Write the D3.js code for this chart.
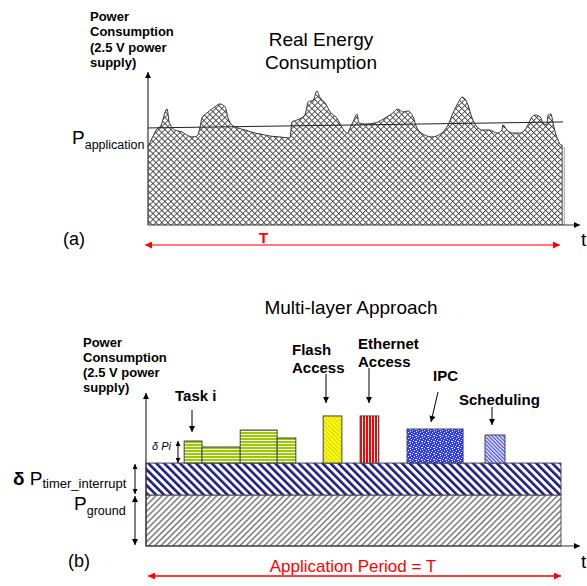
<!DOCTYPE html>
<html>
<head>
<meta charset="utf-8">
<script src="https://cdn.jsdelivr.net/npm/d3@7"></script>
<style>
html,body{margin:0;padding:0;background:#fff;}
svg{display:block;font-family:"Liberation Sans",Arial,sans-serif;}
</style>
</head>
<body>
<svg id="c" width="587" height="586"></svg>
<script>
// ---------- DATA ----------
// (a) real energy consumption profile: time (0..100 = T) and power (arbitrary units)
const energyTime  = [0,1.0,2.4,2.9,4.6,5.1,6.5,8.2,9.4,10.6,11.8,12.5,13.0,14.2,16.1,17.3,18.6,19.3,20.2,21.7,23.4,25.8,27.0,29.4,31.8,34.2,34.7,35.9,37.8,38.6,39.8,40.7,41.4,42.7,43.9,45.5,46.7,48.0,48.7,49.4,50.4,50.8,52.3,54.7,57.1,59.0,60.2,61.4,62.7,63.9,64.8,66.7,68.4,70.8,72.3,73.5,74.7,75.7,76.4,77.1,78.1,79.3,80.7,82.4,84.1,85.3,85.5,86.5,88.0,89.6,91.3,92.5,93.3,94.5,95.2,96.1,96.4,97.1,97.6,98.1,98.8,99.5,99.8];
const energyPower = [52,58,64.7,65.3,77.3,68.7,63.3,62,60,58.7,59.3,64.7,71.3,74.7,78.7,80.7,78.7,71.3,66.7,64.7,63.3,61.3,60.7,59.3,58.7,58,68.7,70,73.3,82,83.3,89.3,85.3,81.3,75.3,71.3,65.3,61.3,64.7,68.7,74,68,67.3,68,71.3,74.7,77.3,75.3,76,72,64.7,60,58.7,61.3,66.7,74.7,81.3,85.3,84,80,71.3,65.3,63.3,63.3,61.3,63.3,66.7,63.3,61.3,61.3,65.3,72,73.3,72,68,66.7,73.3,74,68,62,56.7,53.3,53.3];
const applicationTime  = [0, 100];
const applicationPower = [64.7, 68.7];

// (b) multi-layer model
const groundLevel = 34;     // P_ground
const timerLevel  = 55.3;   // P_ground + dP_timer_interrupt
const barNames  = ["task1","task2","task3","task4","flash","ethernet","ipc","scheduling"];
const barStart  = [9.2, 13.5, 22.7, 31.6, 42.7, 51.6, 62.9, 81.7];
const barEnd    = [13.5, 22.7, 31.6, 36.1, 47.2, 56.1, 76.4, 86.5];
const barTop    = [70, 66, 77.3, 72, 86.7, 86.7, 78, 74];
const barFill   = ["green","green","green","green","flash","ethernet","ipc","sched"];

const labelTexts = [["Task i"],["Flash","Access"],["Ethernet","Access"],["IPC"],["Scheduling"]];

// ---------- DRAW ----------
const svg = d3.select("#c");
const defs = svg.append("defs");

function arrowMarker(id, color, w, h){
  const m = defs.append("marker").attr("id", id).attr("viewBox","0 0 10 10")
    .attr("refX",10).attr("refY",5).attr("markerWidth",w).attr("markerHeight",h)
    .attr("markerUnits","userSpaceOnUse").attr("orient","auto-start-reverse");
  m.append("path").attr("d","M0,0 L10,5 L0,10 Z").attr("fill",color);
}
arrowMarker("ak","#000",7,6);
arrowMarker("aks","#000",6,5);
arrowMarker("ar","#ff0000",9,7);

// crosshatch
let p = defs.append("pattern").attr("id","xhatch").attr("patternUnits","userSpaceOnUse")
  .attr("width",4.24).attr("height",4.24).attr("patternTransform","rotate(45)");
p.append("rect").attr("width",4.24).attr("height",4.24).attr("fill","#fff");
p.append("path").attr("d","M0,0 H4.24 M0,0 V4.24").attr("stroke","#333").attr("stroke-width",1.5);

// ground
p = defs.append("pattern").attr("id","ground").attr("patternUnits","userSpaceOnUse")
  .attr("width",4.3).attr("height",10).attr("patternTransform","rotate(45)");
p.append("rect").attr("width",4.3).attr("height",10).attr("fill","#fff");
p.append("rect").attr("width",1.5).attr("height",10).attr("fill","#7a7a7a");

// timer
p = defs.append("pattern").attr("id","timer").attr("patternUnits","userSpaceOnUse")
  .attr("width",5.6).attr("height",10).attr("patternTransform","rotate(-45)");
p.append("rect").attr("width",5.6).attr("height",10).attr("fill","#fff");
p.append("rect").attr("width",2.6).attr("height",10).attr("fill","#1c1c86");

// green horizontal stripes
p = defs.append("pattern").attr("id","green").attr("patternUnits","userSpaceOnUse")
  .attr("width",10).attr("height",3);
p.append("rect").attr("width",10).attr("height",3).attr("fill","#fff");
p.append("rect").attr("width",10).attr("height",2).attr("fill","#99cc00");

// flash yellow
p = defs.append("pattern").attr("id","flash").attr("patternUnits","userSpaceOnUse")
  .attr("width",3).attr("height",10).attr("patternTransform","rotate(-45)");
p.append("rect").attr("width",3).attr("height",10).attr("fill","#ffff00");
p.append("rect").attr("width",0.9).attr("height",10).attr("fill","#c9c930");

// ethernet red vertical
p = defs.append("pattern").attr("id","ethernet").attr("patternUnits","userSpaceOnUse")
  .attr("width",3).attr("height",10);
p.append("rect").attr("width",3).attr("height",10).attr("fill","#fff");
p.append("rect").attr("width",2).attr("height",10).attr("fill","#ff0000");

// ipc blue dotted
p = defs.append("pattern").attr("id","ipc").attr("patternUnits","userSpaceOnUse")
  .attr("width",6).attr("height",6);
p.append("rect").attr("width",6).attr("height",6).attr("fill","#2f3cff");
p.append("path").attr("d","M0,0h1v1h-1z M3,1h1v1h-1z M1,3h2v1h-2z M4,4h1v1h-1z M5,2h1v1h-1z M2,5h1v1h-1z")
  .attr("fill","#fff");

// scheduling blue diag
p = defs.append("pattern").attr("id","sched").attr("patternUnits","userSpaceOnUse")
  .attr("width",2.6).attr("height",10).attr("patternTransform","rotate(-45)");
p.append("rect").attr("width",2.6).attr("height",10).attr("fill","#fff");
p.append("rect").attr("width",1.3).attr("height",10).attr("fill","#3a46ff");

// ---- (a) ----
const xA = d3.scaleLinear().domain([0,100]).range([148,563]);
const yA = d3.scaleLinear().domain([0,100]).range([225,75]);
const energy = energyTime.map((t,i)=>({t, p: energyPower[i]}));

svg.append("path").datum(energy)
  .attr("d", d3.area().x(d=>xA(d.t)).y0(yA(0)).y1(d=>yA(d.p)).curve(d3.curveMonotoneX))
  .attr("fill","url(#xhatch)");
svg.append("path").datum(energy)
  .attr("d", d3.line().x(d=>xA(d.t)).y(d=>yA(d.p)).curve(d3.curveMonotoneX))
  .attr("fill","none").attr("stroke","#333").attr("stroke-width",1);
svg.append("line").attr("x1",xA(99.8)).attr("x2",xA(99.8)).attr("y1",yA(53.3)).attr("y2",yA(0))
  .attr("stroke","#555").attr("stroke-width",1);
svg.append("line").attr("x1",xA(100.3)).attr("x2",xA(100.3)).attr("y1",yA(52)).attr("y2",yA(0))
  .attr("stroke","#888").attr("stroke-width",0.8);

// application level line
svg.append("line")
  .attr("x1",xA(applicationTime[0])).attr("y1",yA(applicationPower[0]))
  .attr("x2",xA(applicationTime[1])).attr("y2",yA(applicationPower[1]))
  .attr("stroke","#222").attr("stroke-width",1);

// axes (a)
svg.append("line").attr("x1",xA(0)).attr("y1",yA(0)).attr("x2",xA(0)).attr("y2",72)
  .attr("stroke","#333").attr("stroke-width",1.2).attr("marker-end","url(#ak)");
svg.append("line").attr("x1",xA(0)).attr("y1",yA(0)).attr("x2",580).attr("y2",yA(0))
  .attr("stroke","#333").attr("stroke-width",1.2).attr("marker-end","url(#ak)");

// red T arrow
svg.append("line").attr("x1",145).attr("x2",560).attr("y1",245).attr("y2",245)
  .attr("stroke","#ff4d4d").attr("stroke-width",1.6)
  .attr("marker-start","url(#ar)").attr("marker-end","url(#ar)");

// texts (a)
const ylab1 = svg.append("text").attr("x",90).attr("font-size",13).attr("font-weight","bold").attr("fill","#000");
["Power","Consumption","(2.5 V power","supply)"].forEach((s,i)=>
  ylab1.append("tspan").attr("x",90).attr("y",21+i*15.3).text(s));
svg.append("text").attr("x",321).attr("y",46).attr("text-anchor","middle").attr("font-size",19).text("Real Energy");
svg.append("text").attr("x",321).attr("y",69).attr("text-anchor","middle").attr("font-size",19).text("Consumption");
const pa = svg.append("text").attr("x",72).attr("y",144).attr("font-size",19);
pa.append("tspan").text("P");
pa.append("tspan").attr("font-size",12.5).attr("dy",4.5).text("application");
svg.append("text").attr("x",63).attr("y",245).attr("font-size",18).text("(a)");
svg.append("text").attr("x",581).attr("y",246).attr("font-size",19).text("t");
svg.append("text").attr("x",263.5).attr("y",243).attr("text-anchor","middle").attr("font-size",15)
  .attr("font-weight","bold").attr("fill","#ff0000").text("T");

// ---- (b) ----
const xB = d3.scaleLinear().domain([0,100]).range([146,561]);
const yB = d3.scaleLinear().domain([0,100]).range([546,396]);

svg.append("rect").attr("x",xB(0)).attr("width",xB(100)-xB(0))
  .attr("y",yB(groundLevel)).attr("height",yB(0)-yB(groundLevel))
  .attr("fill","url(#ground)").attr("stroke","#555").attr("stroke-width",1);
svg.append("rect").attr("x",xB(0)).attr("width",xB(100)-xB(0))
  .attr("y",yB(timerLevel)).attr("height",yB(groundLevel)-yB(timerLevel))
  .attr("fill","url(#timer)").attr("stroke","#444").attr("stroke-width",1);

const bars = barNames.map((n,i)=>({n, s:barStart[i], e:barEnd[i], top:barTop[i], f:barFill[i]}));
svg.selectAll("rect.bar").data(bars).enter().append("rect").attr("class","bar")
  .attr("x",d=>xB(d.s)).attr("width",d=>xB(d.e)-xB(d.s))
  .attr("y",d=>yB(d.top)).attr("height",d=>yB(timerLevel)-yB(d.top))
  .attr("fill",d=>"url(#"+d.f+")").attr("stroke","#444").attr("stroke-width",1);

// axes (b)
svg.append("line").attr("x1",xB(0)).attr("y1",yB(0)).attr("x2",xB(0)).attr("y2",393)
  .attr("stroke","#333").attr("stroke-width",1.2).attr("marker-end","url(#ak)");
svg.append("line").attr("x1",xB(0)).attr("y1",yB(0)).attr("x2",580).attr("y2",yB(0))
  .attr("stroke","#333").attr("stroke-width",1.2).attr("marker-end","url(#ak)");

// dimension arrows
function dbl(x,y1,y2,mk){
  svg.append("line").attr("x1",x).attr("x2",x).attr("y1",y1).attr("y2",y2)
    .attr("stroke","#000").attr("stroke-width",1)
    .attr("marker-start","url(#"+mk+")").attr("marker-end","url(#"+mk+")");
}
dbl(178, yB(barTop[0]), yB(timerLevel), "aks");
dbl(135, yB(timerLevel)+1, yB(groundLevel)-1, "aks");
dbl(135, yB(groundLevel)+1, yB(0)-1, "ak");

// pointer arrows
const pointers = [[192,410,192,432],[326,374,326,403],[369,368,369,403],[438,392,431,422],[492,407,492,425]];
pointers.forEach(a=>svg.append("line").attr("x1",a[0]).attr("y1",a[1]).attr("x2",a[2]).attr("y2",a[3])
  .attr("stroke","#000").attr("stroke-width",1).attr("marker-end","url(#ak)"));

// labels
const labelPos = [[175,401],[292,355],[358,349],[433,381],[459,405]];
labelTexts.forEach((lines,i)=>{
  const t = svg.append("text").attr("font-size",15).attr("font-weight","bold");
  lines.forEach((s,j)=>t.append("tspan").attr("x",labelPos[i][0]).attr("y",labelPos[i][1]+j*18.3).text(s));
});

const ylab2 = svg.append("text").attr("font-size",13).attr("font-weight","bold");
["Power","Consumption","(2.5 V power","supply)"].forEach((s,i)=>
  ylab2.append("tspan").attr("x",83).attr("y",346.5+i*15.3).text(s));

svg.append("text").attr("x",351).attr("y",314).attr("text-anchor","middle").attr("font-size",19).text("Multi-layer Approach");
svg.append("text").attr("x",152).attr("y",450).attr("font-size",11).attr("font-style","italic").text("δ Pi");

const pt = svg.append("text").attr("x",13).attr("y",485).attr("font-size",19);
pt.append("tspan").attr("font-weight","bold").text("δ");
pt.append("tspan").text(" P");
pt.append("tspan").attr("font-size",13).attr("dy",3).text("timer_interrupt");

const pg = svg.append("text").attr("x",74).attr("y",510).attr("font-size",19);
pg.append("tspan").text("P");
pg.append("tspan").attr("font-size",12.5).attr("dy",4.5).text("ground");

svg.append("text").attr("x",68).attr("y",567).attr("font-size",18).text("(b)");
svg.append("text").attr("x",581).attr("y",568).attr("font-size",19).text("t");
svg.append("text").attr("x",353).attr("y",572).attr("text-anchor","middle").attr("font-size",17)
  .attr("fill","#ff0000").text("Application Period = T");
svg.append("line").attr("x1",148).attr("x2",561).attr("y1",576).attr("y2",576)
  .attr("stroke","#ff0000").attr("stroke-width",1.3)
  .attr("marker-start","url(#ar)").attr("marker-end","url(#ar)");
</script>
</body>
</html>
